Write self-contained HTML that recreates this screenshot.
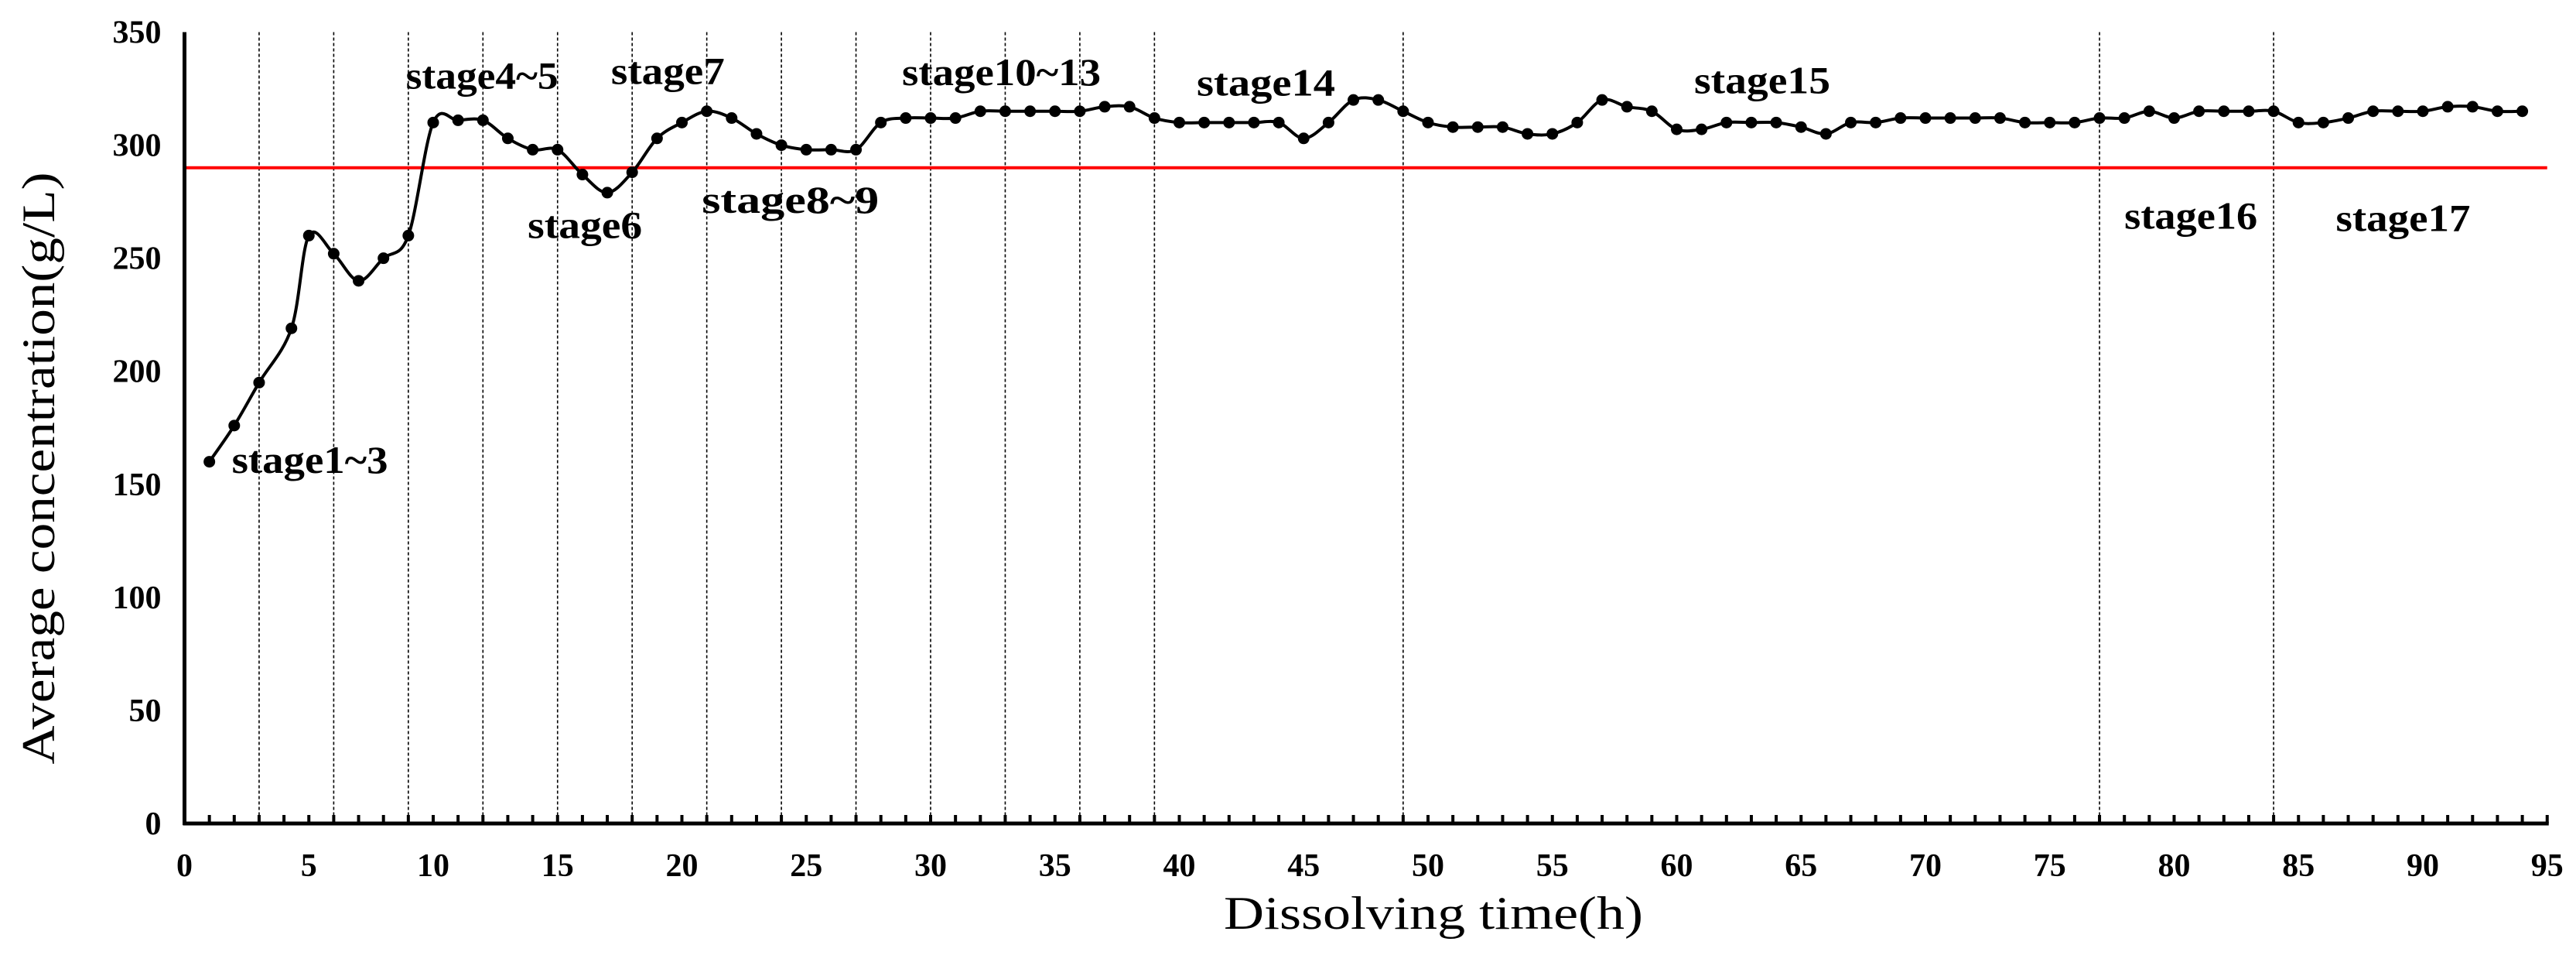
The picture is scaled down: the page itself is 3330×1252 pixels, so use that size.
<!DOCTYPE html>
<html><head><meta charset="utf-8"><style>
html,body{margin:0;padding:0;background:#fff;}
svg{display:block;}
</style></head><body>
<svg id="chart" width="3330" height="1252" viewBox="0 0 3330 1252" xmlns="http://www.w3.org/2000/svg">
<g id="grid"></g>
<line id="thr" stroke="#ff0000" stroke-width="4"/>
<g id="series"></g>
<g id="axes"></g>
<g id="labels"></g>
<text x="0" y="0" transform="translate(70,605) rotate(-90)" text-anchor="middle" font-family="Liberation Serif, serif" font-size="60" textLength="765" lengthAdjust="spacingAndGlyphs">Average concentration(g/L)</text>
<text x="1853" y="1200" text-anchor="middle" font-family="Liberation Serif, serif" font-size="60" textLength="542" lengthAdjust="spacingAndGlyphs">Dissolving time(h)</text>
</svg>
<script>
const hours = [1,2,3,4.3,5,6,7,8,9,10,11,12,13,14,15,16,17,18,19,20,21,22,23,24,25,26,27,28,29,30,31,32,33,34,35,36,37,38,39,40,41,42,43,44,45,46,47,48,49,50,51,52,53,54,55,56,57,58,59,60,61,62,63,64,65,66,67,68,69,70,71,72,73,74,75,76,77,78,79,80,81,82,83,84,85,86,87,88,89,90,91,92,93,94];
const concentration = [160,176,195,219,260,252,240,250,260,310,311,311,303,298,298,287,279,288,303,310,315,312,305,300,298,298,298,310,312,312,312,315,315,315,315,315,317,317,312,310,310,310,310,310,303,310,320,320,315,310,308,308,308,305,305,310,320,317,315,307,307,310,310,310,308,305,310,310,312,312,312,312,312,310,310,310,312,312,315,312,315,315,315,315,310,310,312,315,315,315,317,317,315,315];
const stageDividers = [3,6,9,12,15,18,21,24,27,30,33,36,39,49,77,84];
const threshold = 290;
const yTicks = [0,50,100,150,200,250,300,350];
const xTicks = [0,5,10,15,20,25,30,35,40,45,50,55,60,65,70,75,80,85,90,95];
const stageNames = ["stage1~3","stage4~5","stage6","stage7","stage8~9","stage10~13","stage14","stage15","stage16","stage17"];
const stageLabelX = [1.9,8.9,13.8,17.15,20.8,28.85,40.7,60.7,78.0,86.5];
const stageLabelY = [155,325,259,327,270,326.5,322,323,263,262];
const stageLabelW = [202,197,148,147,229,257,179,176,172,174];

const NS="http://www.w3.org/2000/svg";
const X0=238.5, XPX=32.15, Y0=1064, YPX=1022.5/350;
const sx=v=>X0+v*XPX, sy=v=>Y0-v*YPX;
function mk(tag,attrs,parent){const e=document.createElementNS(NS,tag);for(const k in attrs)e.setAttribute(k,attrs[k]);parent.appendChild(e);return e;}

const grid=document.getElementById('grid');
stageDividers.forEach(h=>{
  const l=mk('line',{x1:sx(h),x2:sx(h),y1:sy(350),y2:Y0,stroke:'#000','stroke-width':1.6,'stroke-dasharray':'4,3'},grid);
  
  
});
const thr=document.getElementById('thr');
thr.setAttribute('x1',sx(0));thr.setAttribute('x2',sx(95));
thr.setAttribute('y1',sy(threshold));thr.setAttribute('y2',sy(threshold));

const series=document.getElementById('series');
const pts=hours.map((h,i)=>[sx(h),sy(concentration[i])]);
let d='M'+pts[0][0]+','+pts[0][1];
for(let i=0;i<pts.length-1;i++){
  const p0=pts[Math.max(0,i-1)],p1=pts[i],p2=pts[i+1],p3=pts[Math.min(pts.length-1,i+2)];
  const t=6;
  d+=' C'+(p1[0]+(p2[0]-p0[0])/t)+','+(p1[1]+(p2[1]-p0[1])/t)+' '+(p2[0]-(p3[0]-p1[0])/t)+','+(p2[1]-(p3[1]-p1[1])/t)+' '+p2[0]+','+p2[1];
}
const path=mk('path',{d:d,fill:'none',stroke:'#000','stroke-width':4},series);


pts.forEach(p=>{
  const c=mk('circle',{cx:p[0],cy:p[1],r:7.5,fill:'#000'},series);
  
  
});

const axes=document.getElementById('axes');
const ya=mk('line',{x1:X0,x2:X0,y1:sy(350),y2:Y0+2,stroke:'#000','stroke-width':5},axes);


const xa=mk('line',{x1:X0-2,x2:sx(95)+2,y1:Y0,y2:Y0,stroke:'#000','stroke-width':5},axes);


for(let h=1;h<=95;h++){
  const t=mk('line',{x1:sx(h),x2:sx(h),y1:Y0,y2:Y0-11,stroke:'#000','stroke-width':4},axes);
  
  
}
yTicks.forEach(v=>{
  const t=mk('text',{x:X0-30,y:sy(v)+14,'text-anchor':'end','font-family':'Liberation Serif, serif','font-weight':'bold','font-size':42},axes);
  t.textContent=v;
  
  
});
xTicks.forEach(v=>{
  const t=mk('text',{x:sx(v),y:1132,'text-anchor':'middle','font-family':'Liberation Serif, serif','font-weight':'bold','font-size':42},axes);
  t.textContent=v;
  
  
});
const labels=document.getElementById('labels');
stageNames.forEach((s,i)=>{
  const t=mk('text',{x:sx(stageLabelX[i]),y:sy(stageLabelY[i]),'font-family':'Liberation Serif, serif','font-weight':'bold','font-size':50,textLength:stageLabelW[i],lengthAdjust:'spacingAndGlyphs'},labels);
  t.textContent=s;
  
  
});
</script>
</body></html>
